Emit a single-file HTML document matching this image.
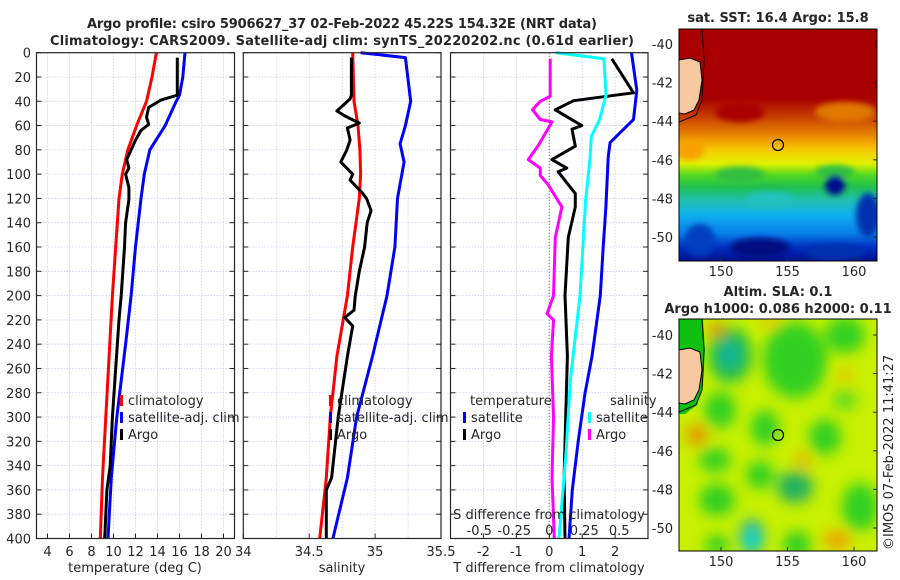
<!DOCTYPE html>
<html><head><meta charset="utf-8"><style>
html,body{margin:0;padding:0;background:#fff}
svg{display:block}
text{font-family:"DejaVu Sans","Liberation Sans",sans-serif;fill:#262626}
</style></head><body>
<svg id="chart" width="900" height="580" viewBox="0 0 900 580" xmlns="http://www.w3.org/2000/svg">
<defs>
<filter id="blur6" x="-50%" y="-50%" width="200%" height="200%"><feGaussianBlur stdDeviation="7"/></filter>
<filter id="blur3"><feGaussianBlur stdDeviation="3"/></filter>
<clipPath id="clipM1"><rect x="679" y="29" width="198" height="232"/></clipPath>
<clipPath id="clipM2"><rect x="679" y="319" width="198" height="232"/></clipPath>
<linearGradient id="sstGrad" x1="0" y1="0" x2="0" y2="1">
<stop offset="0" stop-color="#a80000"/><stop offset="0.3" stop-color="#a80000"/>
<stop offset="0.38" stop-color="#c84000"/><stop offset="0.46" stop-color="#e88800"/>
<stop offset="0.52" stop-color="#f8c800"/><stop offset="0.58" stop-color="#e0f000"/>
<stop offset="0.63" stop-color="#50d820"/><stop offset="0.68" stop-color="#20c050"/>
<stop offset="0.74" stop-color="#20c0b0"/><stop offset="0.8" stop-color="#10b0f0"/>
<stop offset="0.88" stop-color="#0880e8"/><stop offset="0.94" stop-color="#0030c0"/><stop offset="1" stop-color="#001090"/>
</linearGradient>
</defs>
<g id="titles">
<text x="342" y="28" font-size="13" font-weight="bold" text-anchor="middle" textLength="510" fill="#000">Argo profile: csiro 5906627_37 02-Feb-2022 45.22S 154.32E (NRT data)</text>
<text x="342" y="45" font-size="13" font-weight="bold" text-anchor="middle" textLength="584" fill="#000">Climatology: CARS2009. Satellite-adj clim: synTS_20220202.nc (0.61d earlier)</text>
</g>
<g id="panels"></g>
<g id="maps">
<text x="778" y="22" font-size="13" font-weight="bold" text-anchor="middle" fill="#000">sat. SST: 16.4 Argo: 15.8</text>
<g clip-path="url(#clipM1)">
<rect x="679" y="29" width="198" height="232" fill="url(#sstGrad)"/>
<g filter="url(#blur3)">
<ellipse cx="740" cy="112" rx="25" ry="10" fill="#a80000"/>
<ellipse cx="845" cy="112" rx="30" ry="10" fill="#e07800"/>
<ellipse cx="690" cy="150" rx="14" ry="10" fill="#f8a000"/>
<ellipse cx="740" cy="175" rx="25" ry="8" fill="#30c040"/>
<ellipse cx="835" cy="172" rx="20" ry="7" fill="#30c040"/>
<ellipse cx="835" cy="185" rx="10" ry="10" fill="#001090"/>
<ellipse cx="868" cy="215" rx="12" ry="22" fill="#0030b0"/>
<ellipse cx="760" cy="248" rx="30" ry="10" fill="#001080"/>
<ellipse cx="700" cy="240" rx="15" ry="16" fill="#0040c0"/>
<ellipse cx="835" cy="252" rx="30" ry="8" fill="#0030b0"/>
<ellipse cx="770" cy="200" rx="25" ry="8" fill="#20c0c0"/>
</g>
<path d="M679,60 L690,58 L700,62 L702,80 L699,100 L694,110 L685,114 L679,113 Z" fill="#f8c8a0" stroke="#000" stroke-width="1"/>
<path d="M702,29 L704,60 L702,100 L696,115 L679,122" fill="none" stroke="#000" stroke-width="1"/>
<circle cx="778" cy="145" r="5.5" fill="none" stroke="#000" stroke-width="1.2"/>
</g>
<rect x="679" y="29" width="198" height="232" fill="none" stroke="#000" stroke-width="1"/>
<text x="778" y="296" font-size="13" font-weight="bold" text-anchor="middle" fill="#000">Altim. SLA: 0.1</text>
<text x="778" y="313" font-size="13" font-weight="bold" text-anchor="middle" fill="#000">Argo h1000: 0.086 h2000: 0.11</text>
<g clip-path="url(#clipM2)">
<rect x="679" y="319" width="198" height="232" fill="#c8f000"/>
<g filter="url(#blur6)">
<ellipse cx="730" cy="355" rx="22" ry="28" fill="#20c040"/>
<ellipse cx="795" cy="360" rx="32" ry="38" fill="#30d020"/>
<ellipse cx="845" cy="335" rx="20" ry="18" fill="#30d020"/>
<ellipse cx="720" cy="410" rx="16" ry="18" fill="#30d020"/>
<ellipse cx="765" cy="428" rx="14" ry="18" fill="#30d020"/>
<ellipse cx="825" cy="437" rx="16" ry="18" fill="#30d020"/>
<ellipse cx="845" cy="400" rx="12" ry="10" fill="#60d820"/>
<ellipse cx="715" cy="460" rx="16" ry="12" fill="#30d020"/>
<ellipse cx="760" cy="475" rx="14" ry="14" fill="#30d020"/>
<ellipse cx="795" cy="487" rx="18" ry="16" fill="#20b060"/>
<ellipse cx="717" cy="500" rx="18" ry="16" fill="#30d020"/>
<ellipse cx="860" cy="507" rx="18" ry="24" fill="#30d020"/>
<ellipse cx="797" cy="545" rx="14" ry="14" fill="#30d020"/>
<ellipse cx="717" cy="545" rx="12" ry="10" fill="#30d020"/>
<ellipse cx="752" cy="537" rx="12" ry="18" fill="#20b0a0"/>
<ellipse cx="752" cy="540" rx="6" ry="10" fill="#00e0e0"/>
<ellipse cx="730" cy="355" rx="10" ry="14" fill="#10b0a0"/>
<ellipse cx="717" cy="330" rx="8" ry="7" fill="#e08000"/>
<ellipse cx="845" cy="375" rx="7" ry="6" fill="#f0b000"/>
<ellipse cx="697" cy="435" rx="11" ry="10" fill="#e89000"/>
<ellipse cx="803" cy="460" rx="7" ry="7" fill="#f0a000"/>
<ellipse cx="837" cy="540" rx="14" ry="9" fill="#f0a000"/>
<ellipse cx="770" cy="320" rx="10" ry="5" fill="#f0b000"/>
</g>
<path d="M679,319 L703,319 L705,350 L703,385 L697,405 L685,414 L679,414 Z" fill="#10c010"/>
<path d="M679,350 L690,348 L700,352 L702,370 L699,390 L694,400 L685,404 L679,403 Z" fill="#f8c8a0" stroke="#000" stroke-width="1"/>
<path d="M702,319 L704,350 L702,390 L696,405 L679,412" fill="none" stroke="#000" stroke-width="1"/>
<circle cx="778" cy="435" r="5.5" fill="none" stroke="#000" stroke-width="1.2"/>
</g>
<rect x="679" y="319" width="198" height="232" fill="none" stroke="#000" stroke-width="1"/>
<g id="mapTicks"></g>
<text transform="translate(893,550) rotate(-90)" font-size="13" fill="#262626">©IMOS 07-Feb-2022 11:41:27</text>
</g>
</svg>
<script>
// ---------- data ----------
const tempClimP=[0,20,40,60,80,100,120,160,200,250,300,350,400];
const tempClimV=[13.9,13.5,13.0,12.1,11.3,10.8,10.5,10.2,9.9,9.6,9.3,9.0,8.8];
const tempSatP=[0,20,35,40,60,80,100,120,160,200,240,300,350,400];
const tempSatV=[16.5,16.3,16.0,15.7,14.7,13.3,12.8,12.5,12.0,11.6,11.1,10.3,9.8,9.5];
const tempArgoP=[4,35,39,45,53,59,64,72,80,88,95,100,111,121,140,160,200,220,260,300,340,360,400];
const tempArgoV=[15.8,15.8,14.3,13.2,13.0,13.2,12.5,12.0,11.6,11.2,11.4,11.1,11.4,11.4,11.1,11.0,10.7,10.5,10.2,9.9,9.7,9.4,9.2];
const salClimP=[0,40,60,80,100,120,160,200,250,300,350,400];
const salClimV=[34.83,34.84,34.87,34.885,34.89,34.88,34.83,34.79,34.71,34.66,34.63,34.58];
const salSatP=[0,4,40,60,75,90,120,160,200,250,300,350,400];
const salSatV=[34.89,35.23,35.27,35.23,35.19,35.22,35.17,35.15,35.09,34.98,34.86,34.79,34.68];
const salArgoP=[4,35,38,48,52,58,62,72,80,90,100,105,115,120,130,140,160,180,200,212,218,225,250,300,350,360,400];
const salArgoV=[34.82,34.82,34.81,34.71,34.77,34.88,34.79,34.81,34.785,34.74,34.83,34.81,34.90,34.935,34.97,34.94,34.92,34.88,34.85,34.84,34.77,34.83,34.79,34.72,34.67,34.63,34.63];
const tdSatP=[0,31,55,74,86,127,160,200,250,280,320,360,400];
const tdSatV=[2.5,2.66,2.56,1.85,1.79,1.72,1.64,1.55,1.3,1.09,0.88,0.7,0.6];
const tdArgoP=[5,33,39.5,47,60,63,77,88,95,98,116,127,152,200,250,300,350,400];
const tdArgoV=[1.9,2.56,0.74,0.18,0.99,0.69,0.79,0.08,0.53,0.27,0.79,0.79,0.58,0.48,0.55,0.5,0.45,0.48];
const sdSatP=[0,5,35,55,69,88,122,200,270,330,400];
const sdSatV=[0.048,0.39,0.405,0.36,0.30,0.29,0.26,0.22,0.15,0.12,0.07];
const sdArgoP=[5,36,40,47,55,57,76,88,95,101,109,127,152,200,215,220,250,300,350,400];
const sdArgoV=[0.007,0.007,-0.064,-0.12,-0.064,0.019,-0.076,-0.15,-0.064,-0.064,-0.007,0.09,0.043,0.03,-0.015,0.03,0.015,0.03,0.02,0.036];
const pressureTicks=[0,20,40,60,80,100,120,140,160,180,200,220,240,260,280,300,320,340,360,380,400];
const tempTicks=[4,6,8,10,12,14,16,18,20];
const salTicks=[34,34.5,35,35.5];
const salGrid=[34.25,34.5,34.75,35,35.25];
const tdTicks=[-2,-1,0,1,2];
const sdTicks=[-0.5,-0.25,0,0.25,0.5];
const sdTickLabels=["-0.5","-0.25","0","0.25","0.5"];
const latTicks=[-40,-42,-44,-46,-48,-50];
const lonTicks=[150,155,160];

const NS='http://www.w3.org/2000/svg';
const TOP=52.7,BOT=538.5;
function yP(p){return TOP+(p/400)*(BOT-TOP);}
function mk(tag,attrs,parent){const e=document.createElementNS(NS,tag);for(const k in attrs)e.setAttribute(k,attrs[k]);parent.appendChild(e);return e;}
const panels=document.getElementById('panels');

function panel(name,x0,x1,xmin,xmax,gridVals){
  const g=mk('g',{},panels);
  
  
  const sx=v=>x0+(v-xmin)/(xmax-xmin)*(x1-x0);
  pressureTicks.forEach(p=>{
    const l=mk('line',{x1:x0,x2:x1,y1:yP(p),y2:yP(p),stroke:'#c8cce8','stroke-width':0.8,'stroke-dasharray':'1.5,1.5'},g);
    
    
    mk('line',{x1:x0,x2:x0+5,y1:yP(p),y2:yP(p),stroke:'#262626'},g);
    mk('line',{x1:x1-5,x2:x1,y1:yP(p),y2:yP(p),stroke:'#262626'},g);
  });
  gridVals.forEach(v=>{
    const l=mk('line',{x1:sx(v),x2:sx(v),y1:TOP,y2:BOT,stroke:'#c8cce8','stroke-width':0.8,'stroke-dasharray':'1.5,1.5'},g);
    
    
  });
  return {g,sx};
}
function line(pn,P,V,color,name,sx,w){
  const d=P.map((p,i)=>(i?'L':'M')+sx(V[i]).toFixed(1)+','+yP(p).toFixed(1)).join('');
  const e=mk('path',{d:d,fill:'none',stroke:color,'stroke-width':w||3,'stroke-linejoin':'round'},pn.g);
  
  
}
function frame(pn,x0,x1){mk('rect',{x:x0,y:TOP,width:x1-x0,height:BOT-TOP,fill:'none',stroke:'#262626','stroke-width':1.2},pn.g);}
function xTicks(pn,vals,labels,sx,y){
  vals.forEach((v,i)=>{
    mk('line',{x1:sx(v),x2:sx(v),y1:BOT,y2:BOT-5,stroke:'#262626'},pn.g);
    const t=mk('text',{x:sx(v),y:y,'font-size':13,'text-anchor':'middle'},pn.g);
    t.textContent=labels[i];
    
    
  });
}
function txt(parent,x,y,s,name,anchor,size){
  const t=mk('text',{x:x,y:y,'font-size':size||13,'text-anchor':anchor||'start'},parent);
  t.textContent=s;
  
  
  return t;
}
function legMark(parent,x,y,color,name){
  const r=mk('rect',{x:x,y:y-10,width:3,height:11,fill:color},parent);
  
  
}

const p1=panel('temperature-panel',36.5,234.5,3,21,tempTicks);
line(p1,tempClimP,tempClimV,'#ff0000','temp-climatology-line',p1.sx);
line(p1,tempSatP,tempSatV,'#0000ff','temp-satellite-line',p1.sx);
line(p1,tempArgoP,tempArgoV,'#000000','temp-argo-line',p1.sx);
frame(p1,36.5,234.5);
pressureTicks.forEach(p=>{txt(p1.g,31,yP(p)+5,String(p),'y-tick-label','end');});
xTicks(p1,tempTicks,tempTicks.map(String),p1.sx,556);
txt(p1.g,135,572,'temperature (deg C)','x-axis-title-temperature','middle');
legMark(p1.g,120,405,'#ff0000','legend-climatology-mark');txt(p1.g,128,405,'climatology','legend-climatology');
legMark(p1.g,120,422,'#0000ff','legend-satellite-mark');txt(p1.g,128,422,'satellite-adj. clim','legend-satellite');
legMark(p1.g,120,439,'#000000','legend-argo-mark');txt(p1.g,128,439,'Argo','legend-argo');

const p2=panel('salinity-panel',243.3,441,34,35.5,salGrid);
line(p2,salClimP,salClimV,'#ff0000','sal-climatology-line',p2.sx);
line(p2,salSatP,salSatV,'#0000ff','sal-satellite-line',p2.sx);
line(p2,salArgoP,salArgoV,'#000000','sal-argo-line',p2.sx);
frame(p2,243.3,441);
xTicks(p2,salTicks,["34","34.5","35","35.5"],p2.sx,556);
txt(p2.g,342,572,'salinity','x-axis-title-salinity','middle');
legMark(p2.g,329,405,'#ff0000','legend-climatology-mark');txt(p2.g,337,405,'climatology','legend-climatology');
legMark(p2.g,329,422,'#0000ff','legend-satellite-mark');txt(p2.g,337,422,'satellite-adj. clim','legend-satellite');
legMark(p2.g,329,439,'#000000','legend-argo-mark');txt(p2.g,337,439,'Argo','legend-argo');

const p3=panel('difference-panel',450.5,648,-3,3,tdTicks);
const sxS=v=>549.25+v*140;
mk('line',{x1:549.25,x2:549.25,y1:TOP,y2:BOT,stroke:'#556b2f','stroke-width':1,'stroke-dasharray':'1,2'},p3.g);
line(p3,sdArgoP,sdArgoV,'#ff00ff','sal-diff-argo-line',sxS);
line(p3,tdArgoP,tdArgoV,'#000000','temp-diff-argo-line',p3.sx);
line(p3,sdSatP,sdSatV,'#00ffff','sal-diff-satellite-line',sxS);
line(p3,tdSatP,tdSatV,'#0000ff','temp-diff-satellite-line',p3.sx);
frame(p3,450.5,648);
xTicks(p3,tdTicks,tdTicks.map(String),p3.sx,556);
txt(p3.g,549,572,'T difference from climatology','x-axis-title-tdiff','middle');
txt(p3.g,549,519,'S difference from climatology','s-axis-title-sdiff','middle');
sdTicks.forEach((v,i)=>{txt(p3.g,sxS(v),535,sdTickLabels[i],'s-tick-label','middle');});
txt(p3.g,470,405,'temperature','legend-temperature-header');
legMark(p3.g,463,422,'#0000ff','legend-tsat-mark');txt(p3.g,471,422,'satellite','legend-tsat');
legMark(p3.g,463,439,'#000000','legend-targo-mark');txt(p3.g,471,439,'Argo','legend-targo');
txt(p3.g,610,405,'salinity','legend-salinity-header');
legMark(p3.g,588,422,'#00ffff','legend-ssat-mark');txt(p3.g,596,422,'satellite','legend-ssat');
legMark(p3.g,588,439,'#ff00ff','legend-sargo-mark');txt(p3.g,596,439,'Argo','legend-sargo');

const mt=document.getElementById('mapTicks');
[[44,261],[335,551]].forEach(([y40,bot])=>{
  latTicks.forEach(lat=>{
    const y=y40+(-40-lat)*19.3;
    mk('line',{x1:877,x2:873,y1:y,y2:y,stroke:'#262626'},mt);
    txt(mt,673,y+5,String(lat),'lat-tick-label','end');
  });
  lonTicks.forEach(lon=>{
    const x=721+(lon-150)*13.3;
    mk('line',{x1:x,x2:x,y1:bot,y2:bot-4,stroke:'#262626'},mt);
    txt(mt,x,bot+15,String(lon),'lon-tick-label','middle');
  });
});
</script>
</body></html>
